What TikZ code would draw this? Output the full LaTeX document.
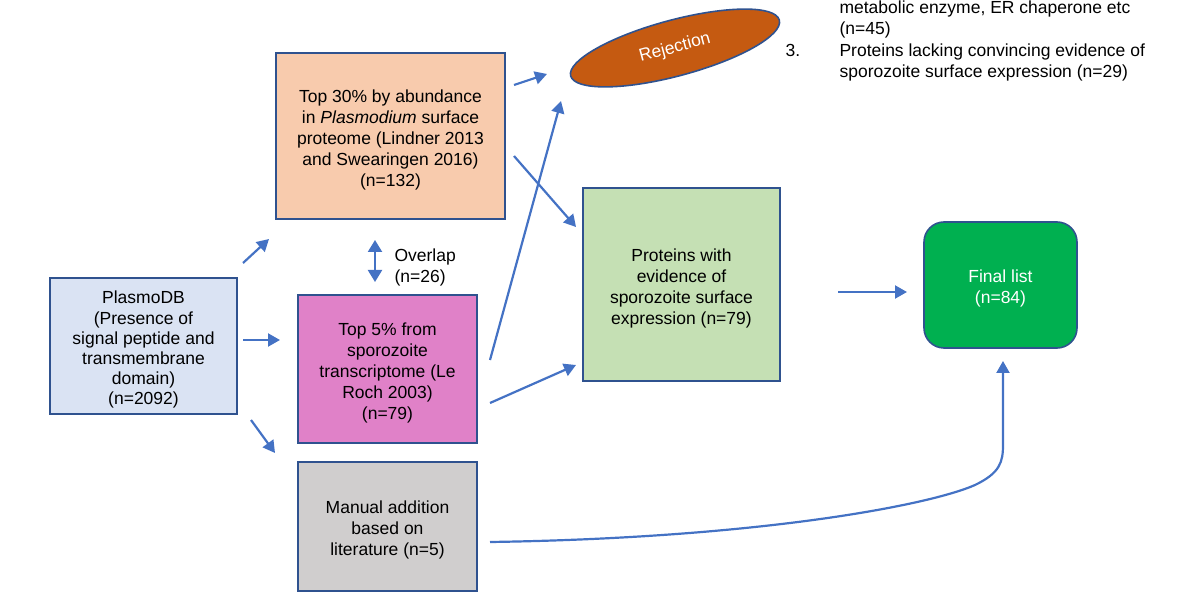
\documentclass[tikz,border=0pt]{standalone}
\usepackage{fontspec}
\setmainfont{Liberation Sans}
\usetikzlibrary{arrows.meta,shapes.geometric}

\definecolor{boxline}{HTML}{2F528F}
\definecolor{flowblue}{HTML}{4472C4}
\definecolor{dbblue}{HTML}{DAE3F3}
\definecolor{peach}{HTML}{F8CBAD}
\definecolor{orchid}{HTML}{E081C8}
\definecolor{litgrey}{HTML}{D0CECE}
\definecolor{palegreen}{HTML}{C5E0B4}
\definecolor{finalgreen}{HTML}{00B050}
\definecolor{rust}{HTML}{C55A11}

% extra room above the first line of a box
\newcommand{\topgap}{\rule{0pt}{20.5pt}}

\begin{document}
\begin{tikzpicture}[x=1pt,y=-1pt,
                    every node/.style={font=\fontsize{17.5}{21}\selectfont},
                    box/.style={draw=boxline,line width=1.6pt,align=center,inner sep=2pt},
                    flow/.style={draw=flowblue,line width=2.2pt,-{Triangle[length=12pt,width=13pt]}}]
  \useasboundingbox (0,0) rectangle (1189,593);

  % boxes
  \node[box,fill=dbblue,minimum width=187pt,minimum height=136pt,
        font=\fontsize{17.5}{20.2}\selectfont] (plasmo) at (143.5,346)
    {\topgap PlasmoDB\\(Presence of\\signal peptide and\\transmembrane\\domain)\\(n=2092)};
  \node[box,fill=peach,minimum width=229pt,minimum height=166pt] (top30) at (390.5,136)
    {\topgap Top 30\% by abundance\\in \textit{Plasmodium} surface\\proteome (Lindner 2013\\and Swearingen 2016)\\(n=132)};
  \node[box,fill=orchid,minimum width=179pt,minimum height=148pt] (top5) at (387.5,369)
    {\topgap Top 5\% from\\sporozoite\\transcriptome (Le\\Roch 2003)\\(n=79)};
  \node[box,fill=litgrey,minimum width=179pt,minimum height=129pt] (manual) at (387.5,526.5)
    {\topgap Manual addition\\based on\\literature (n=5)};
  \node[box,fill=palegreen,minimum width=197pt,minimum height=193pt] (evidence) at (681.5,284.5)
    {\topgap Proteins with\\evidence of\\sporozoite surface\\expression (n=79)};
  \node[box,fill=finalgreen,text=white,rounded corners=20pt,minimum width=153pt,minimum height=126pt] (final) at (1000.5,285)
    {\topgap Final list\\(n=84)};
  \node[box,ellipse,fill=rust,text=white,minimum width=216pt,minimum height=56pt,rotate=15] (reject) at (675,48)
    {Rejection};

  % labels
  \node[anchor=west,align=left] (overlap) at (391,267) {Overlap\\(n=26)};
  \node[anchor=base west,align=left,font=\fontsize{17.5}{21.5}\selectfont] (reasons) at (836,78)
    {metabolic enzyme, ER chaperone etc\\(n=45)\\Proteins lacking convincing evidence of\\sporozoite surface expression (n=29)};
  \node[anchor=base west] (num) at (782,57) {3.};

  % arrow ends
  \coordinate (a1) at (243,263);  \coordinate (b1) at (269,239);
  \coordinate (a2) at (243,340);  \coordinate (b2) at (280,340);
  \coordinate (a3) at (251,420);  \coordinate (b3) at (275,453);
  \coordinate (a4) at (375,240);  \coordinate (b4) at (375,282);
  \coordinate (a5) at (514,85);   \coordinate (b5) at (547,74);
  \coordinate (a6) at (514,156);  \coordinate (b6) at (576,227);
  \coordinate (a7) at (490,360);  \coordinate (b7) at (561,101);
  \coordinate (a8) at (490,403);  \coordinate (b8) at (576,365);
  \coordinate (a9) at (838,292);  \coordinate (b9) at (907,292);
  \coordinate (a10) at (490,542); \coordinate (b10) at (1003,361);

  \draw[flow] (a1) -- (b1);
  \draw[flow] (a2) -- (b2);
  \draw[flow] (a3) -- (b3);
  \draw[flow,{Triangle[length=12pt,width=14pt]}-{Triangle[length=12pt,width=14pt]}] (a4) -- (b4);
  \draw[flow] (a5) -- (b5);
  \draw[flow] (a6) -- (b6);
  \draw[flow] (a7) -- (b7);
  \draw[flow] (a8) -- (b8);
  \draw[flow] (a9) -- (b9);
  \draw[flow] (a10) .. controls (760,538) and (930,505) .. (975,485)
                    .. controls (1000,473) and (1003,462) .. (1003,445) -- (b10);
\end{tikzpicture}
\end{document}
